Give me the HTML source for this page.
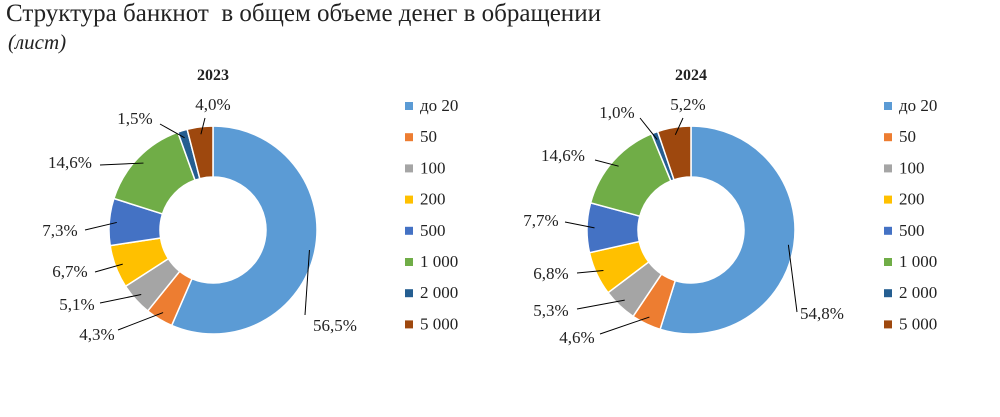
<!DOCTYPE html>
<html><head><meta charset="utf-8"><style>
body{margin:0;background:#fff;width:1000px;height:412px;overflow:hidden;font-family:"Liberation Serif",serif}
</style></head><body>
<svg width="1000" height="412" xmlns="http://www.w3.org/2000/svg" font-family="Liberation Serif, serif">
<text x="6" y="21" font-size="25" fill="#222">Структура банкнот &#160;в общем объеме денег в обращении</text>
<text x="8" y="49" font-size="21" font-style="italic" fill="#222">(лист)</text>
<g id="g1"></g><g id="g2"></g>
</svg>
<script>
const categories=["до 20","50","100","200","500","1 000","2 000","5 000"];
const values2023=[56.5,4.3,5.1,6.7,7.3,14.6,1.5,4.0];
const values2024=[54.8,4.6,5.3,6.8,7.7,14.6,1.0,5.2];
const labels2023=["56,5%","4,3%","5,1%","6,7%","7,3%","14,6%","1,5%","4,0%"];
const labels2024=["54,8%","4,6%","5,3%","6,8%","7,7%","14,6%","1,0%","5,2%"];
const colors=["#5b9bd5","#ed7d31","#a5a5a5","#ffc000","#4472c4","#70ad47","#255e91","#9e480e"];
const NS="http://www.w3.org/2000/svg";
function mk(t,a,p){const e=document.createElementNS(NS,t);for(const k in a)e.setAttribute(k,a[k]);p.appendChild(e);return e;}
function pt(cx,cy,r,a){return [cx+r*Math.sin(a),cy-r*Math.cos(a)];}
function donut(g,cx,cy,title,vals,labs,labelPos,legX){
  const R=104,r=53;
  const t=mk('text',{x:cx,y:80,'font-size':16,'font-weight':'bold','text-anchor':'middle',fill:'#222'},g);
  
  
  t.textContent=title;
  const tot=vals.reduce((a,b)=>a+b,0);let a0=0;
  vals.forEach((v,i)=>{
    const a1=a0+v/tot*2*Math.PI;const lg=(a1-a0)>Math.PI?1:0;
    const [x1,y1]=pt(cx,cy,R,a0),[x2,y2]=pt(cx,cy,R,a1),[x3,y3]=pt(cx,cy,r,a1),[x4,y4]=pt(cx,cy,r,a0);
    const p=mk('path',{d:`M${x1},${y1}A${R},${R} 0 ${lg} 1 ${x2},${y2}L${x3},${y3}A${r},${r} 0 ${lg} 0 ${x4},${y4}Z`,fill:colors[i],stroke:'#fff','stroke-width':1.5},g);
    
    
    const am=(a0+a1)/2;const [mx,my]=pt(cx,cy,(R+r)/2+(i==0?20:18),am);
    const lp=labelPos[i];
    const ln=mk('line',{x1:mx,y1:my,x2:lp[2],y2:lp[3],stroke:'#000','stroke-width':1},g);
    
    
    const tx=mk('text',{x:lp[0],y:lp[1],'font-size':17,fill:'#222','text-anchor':'middle'},g);
    
    
    tx.textContent=labs[i];
    a0=a1;
  });
  categories.forEach((c,i)=>{
    const y=111+i*31.2;
    const rc=mk('rect',{x:legX,y:y-9,width:8,height:8,fill:colors[i]},g);
    
    
    const lt=mk('text',{x:legX+15,y:y,'font-size':17,fill:'#222'},g);
    
    
    lt.textContent=c;
  });
}
const pos1=[[335,331,305,315],[97,340,118,330],[77,310,100,303],[70,277,95,272],[60,236,85,230],[70,168,100,165],[135,124,160,124],[213,110,205,118]];
const pos2=[[822,319,797,312],[577,343,600,334],[551,316,577,309],[551,279,577,273],[541,226,565,222],[563,161,595,160],[617,118,640,118],[688,110,683,118]];
donut(document.getElementById('g1'),213,230,'2023',values2023,labels2023,pos1,405);
donut(document.getElementById('g2'),691,230,'2024',values2024,labels2024,pos2,884);
</script>
</body></html>
